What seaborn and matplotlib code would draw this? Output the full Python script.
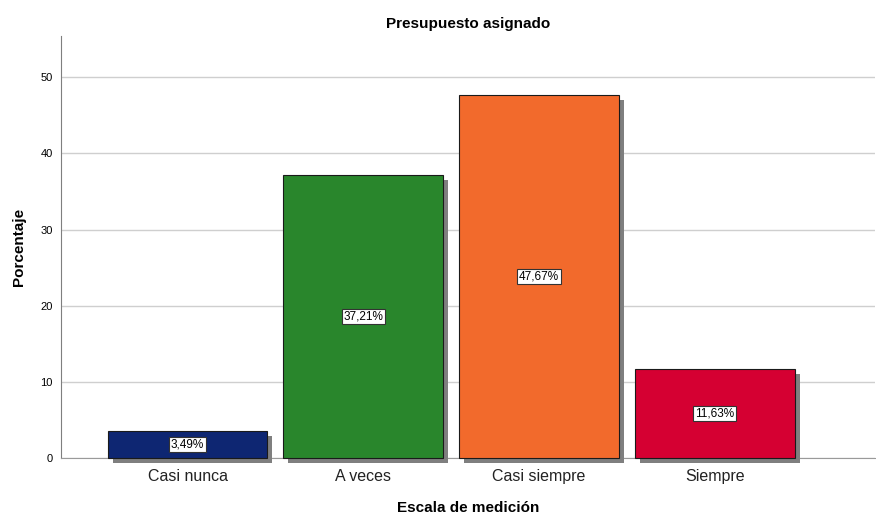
import numpy as np
import pandas as pd
import matplotlib
matplotlib.use('Agg')
import matplotlib.pyplot as plt
import matplotlib.patheffects as pe
import seaborn as sns

# data
categories = ['Casi nunca', 'A veces', 'Casi siempre', 'Siempre']
percentages = [3.49, 37.21, 47.67, 11.63]
bar_colors = ['#0E2672', '#29862C', '#F26A2C', '#D50032']
value_labels = ['3,49%', '37,21%', '47,67%', '11,63%']

df = pd.DataFrame({'categoria': categories, 'porcentaje': percentages})

sns.set_style('white')
plt.rcParams['font.family'] = ['Liberation Sans', 'DejaVu Sans']
plt.rcParams['text.color'] = 'black'
plt.rcParams['axes.labelcolor'] = 'black'

fig = plt.figure(figsize=(8.76, 5.15), dpi=100)
ax = fig.add_axes([0.0696, 0.1107, 0.929, 0.8193])

sns.barplot(data=df, x='categoria', y='porcentaje', hue='categoria',
            palette=bar_colors, saturation=1, width=0.91, edgecolor='#1a1a1a', linewidth=0.8,
            legend=False, ax=ax, zorder=3)

# drop shadow like SPSS output
for p in ax.patches:
    p.set_clip_on(False)
    p.set_path_effects([pe.SimplePatchShadow(offset=(3.6, -3.6), shadow_rgbFace='#7f7f7f', alpha=1.0),
                        pe.Normal()])

for i, (v, lab) in enumerate(zip(percentages, value_labels)):
    ax.text(i, v / 2, lab, ha='center', va='center', fontsize=8.5, zorder=5,
            bbox=dict(boxstyle='square,pad=0.15', facecolor='white', edgecolor='#333333', linewidth=0.8))

ax.set_xlim(-0.72, 3.91)
ax.set_ylim(0, 55.4)
ax.set_yticks([0, 10, 20, 30, 40, 50])
ax.yaxis.grid(True, color='#cfcfcf', linewidth=1.0, zorder=0)
ax.set_axisbelow(True)
for s in ['top', 'right']:
    ax.spines[s].set_visible(False)
ax.spines['left'].set_color('#7f7f7f')
ax.spines['bottom'].set_color('#9a9a9a')
ax.tick_params(axis='y', labelsize=8, length=3, color='#7f7f7f', pad=3, labelcolor='black')
ax.tick_params(axis='x', labelsize=11.5, length=0, pad=8, labelcolor='#222222')

ax.set_title('Presupuesto asignado', fontsize=11, fontweight='bold', pad=6)
ax.set_ylabel('Porcentaje', fontsize=11, fontweight='bold', labelpad=10)
ax.set_xlabel('Escala de medición', fontsize=11, fontweight='bold')
ax.xaxis.set_label_coords(0.5, -0.102)

fig.savefig('out.png', dpi=100)
